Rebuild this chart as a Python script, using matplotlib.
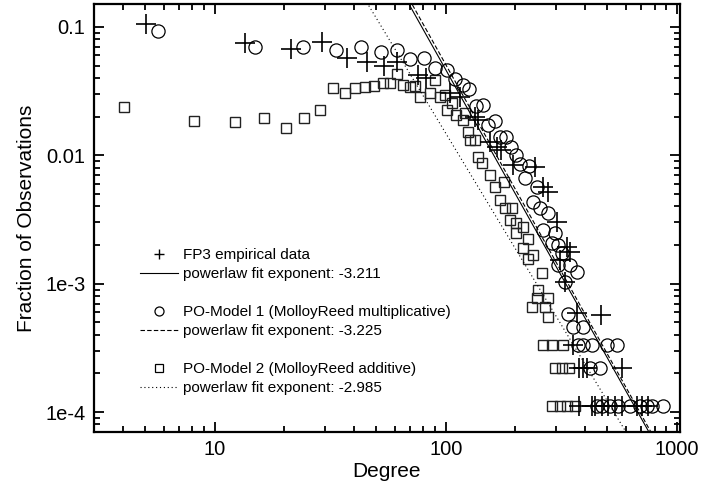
import numpy as np
import matplotlib
matplotlib.use("Agg")
import matplotlib.pyplot as plt
from matplotlib.lines import Line2D
from matplotlib.ticker import LogLocator, NullFormatter

plt.rcParams['font.family'] = ['Liberation Sans', 'DejaVu Sans']

# FP3 empirical data (crosses)
fp3_deg = [5.06, 13.5, 21.3, 29.0, 37.3, 45.5, 54.0, 61.7, 75.9, 82.4,
           104, 115, 134, 138, 155, 166, 174, 196, 243, 264,
           277, 302, 333, 312, 344, 327, 368, 468,
           356,
           378, 393, 406, 577,
           378, 428, 442, 472, 505, 539, 577, 670, 703, 751]
fp3_frac = [0.105, 0.0746, 0.0674, 0.0768, 0.057, 0.0536, 0.0497, 0.0536, 0.0422, 0.0398,
            0.0304, 0.0286, 0.020, 0.0188, 0.01277, 0.01167, 0.011, 0.0084, 0.00814, 0.00569,
            0.0052, 0.00303, 0.00194, 0.00153, 0.00177, 0.001035, 5.87e-4, 5.69e-4,
            3.33e-4,
            2.22e-4, 2.22e-4, 2.22e-4, 2.22e-4,
            1.11e-4, 1.11e-4, 1.11e-4, 1.11e-4, 1.11e-4, 1.11e-4, 1.11e-4, 1.11e-4, 1.11e-4, 1.11e-4]

# PO-Model 1 (circles)
m1_deg = [5.69, 15.0, 24.1, 33.6, 42.9, 52.4, 61.6, 69.8, 80.3, 89.6,
          101, 109, 118, 126, 135, 145, 152, 163, 171, 182,
          192, 201, 209, 228, 220, 247, 239, 255, 277, 264,
          296, 306, 287, 317, 306, 344, 368, 327, 338, 356, 393,
          374, 393, 428, 498, 550,
          420, 464,
          449, 472, 513, 557, 626, 692, 740, 777, 867]
m1_frac = [0.0936, 0.0692, 0.0702, 0.0667, 0.0698, 0.0638, 0.0658, 0.0565, 0.057, 0.0477,
           0.0462, 0.0394, 0.0353, 0.0327, 0.0242, 0.0247, 0.0172, 0.0186, 0.01396, 0.0138,
           0.01167, 0.01014, 0.00855, 0.0082, 0.00662, 0.00569, 0.00435, 0.00386, 0.00355, 0.00262,
           0.00247, 0.002, 0.00206, 0.00174, 0.0014, 0.0014, 0.00124, 0.001035, 5.8e-4, 4.56e-4, 4.56e-4,
           3.33e-4, 3.33e-4, 3.33e-4, 3.33e-4, 3.33e-4,
           2.22e-4, 2.22e-4,
           1.11e-4, 1.11e-4, 1.11e-4, 1.11e-4, 1.11e-4, 1.11e-4, 1.11e-4, 1.11e-4, 1.11e-4]

# PO-Model 2 (squares)
m2_deg = [4.04, 8.13, 12.2, 16.3, 20.3, 24.3, 28.5, 32.5, 36.5, 40.4,
          44.6, 48.8, 53.2, 57.3, 61.2, 65.4, 69.9, 73.4, 77.2, 85.3,
          89.6, 94.2, 99, 101, 106, 111, 119, 121, 125, 127,
          134, 138, 143, 155, 163, 178, 171, 180, 194, 189,
          202, 216, 202, 227, 216, 239, 227, 260, 251, 247,
          277, 235, 268, 277,
          264, 287, 322,
          296, 317, 342,
          289, 312, 334, 362]
m2_frac = [0.0236, 0.0185, 0.0182, 0.0194, 0.0162, 0.0194, 0.0225, 0.0335, 0.0306, 0.0333,
           0.0339, 0.0347, 0.0368, 0.0368, 0.043, 0.0353, 0.0339, 0.0347, 0.0286, 0.0304,
           0.0386, 0.0286, 0.0295, 0.0225, 0.0254, 0.0206, 0.0188, 0.0212, 0.01528, 0.01315,
           0.01315, 0.00975, 0.00867, 0.00702, 0.00569, 0.00622, 0.00449, 0.00386, 0.00386, 0.00313,
           0.00295, 0.00278, 0.00247, 0.00221, 0.00188, 0.00167, 0.00155, 0.00122, 8.9e-4, 7.7e-4,
           7.7e-4, 6.6e-4, 6.6e-4, 5.5e-4,
           3.33e-4, 3.33e-4, 3.33e-4,
           2.22e-4, 2.22e-4, 2.22e-4,
           1.11e-4, 1.11e-4, 1.11e-4, 1.11e-4]

# power law fits: y = 10**log_prefactor * x**exponent
fit_exponents = [-3.211, -3.225, -2.985]
fit_log_prefactors = [5.087, 5.155, 4.140]
fit_styles = ['-', (0, (4, 2)), (0, (1, 2.5))]

legend_labels = ["FP3 empirical data", "powerlaw fit exponent: -3.211", " ",
                 "PO-Model 1 (MolloyReed multiplicative)", "powerlaw fit exponent: -3.225", " ",
                 "PO-Model 2 (MolloyReed additive)", "powerlaw fit exponent: -2.985"]

fig = plt.figure(figsize=(7.01, 4.97), dpi=100)
ax = fig.add_axes([0.134, 0.131, 0.836, 0.861])
ax.set_xscale('log')
ax.set_yscale('log')

ax.plot(m2_deg, m2_frac, ls='none', marker='s', ms=6.5, mfc='none', mec='#222222', mew=1.0)
ax.plot(fp3_deg, fp3_frac, ls='none', marker='+', ms=15, color='k', mew=1.2)
ax.plot(m1_deg, m1_frac, ls='none', marker='o', ms=9.5, mfc='none', mec='k', mew=0.9)

xfit = np.array([3.0, 1000.0])
for e, lp, st in zip(fit_exponents, fit_log_prefactors, fit_styles):
    ax.plot(xfit, 10 ** lp * xfit ** e, color='k', lw=0.8, ls=st)

ax.set_xlim(3.0, 1030)
ax.set_ylim(7.0e-5, 0.151)

ax.set_xticks([10, 100, 1000], ['10', '100', '1000'])
ax.set_yticks([1e-4, 1e-3, 1e-2, 1e-1], ['1e-4', '1e-3', '0.01', '0.1'])
ax.xaxis.set_minor_locator(LogLocator(base=10, subs=np.arange(2, 10)))
ax.yaxis.set_minor_locator(LogLocator(base=10, subs=np.arange(2, 10)))
ax.xaxis.set_minor_formatter(NullFormatter())
ax.yaxis.set_minor_formatter(NullFormatter())
ax.tick_params(which='both', direction='in', top=True, right=True, width=1.3, labelsize=14.5)
ax.tick_params(which='major', length=7, pad=6)
ax.tick_params(which='minor', length=4)
for s in ax.spines.values():
    s.set_linewidth(1.6)

ax.set_xlabel("Degree", fontsize=15, labelpad=2)
ax.set_ylabel("Fraction of Observations", fontsize=15, labelpad=7)

handles = [
    Line2D([], [], ls='none', marker='+', ms=7, color='k', mew=1.0),
    Line2D([], [], color='k', lw=0.8),
    Line2D([], [], ls='none'),
    Line2D([], [], ls='none', marker='o', ms=6.5, mfc='none', mec='k', mew=0.9),
    Line2D([], [], color='k', lw=0.8, ls=fit_styles[1]),
    Line2D([], [], ls='none'),
    Line2D([], [], ls='none', marker='s', ms=5.5, mfc='none', mec='k', mew=0.9),
    Line2D([], [], color='k', lw=0.8, ls=fit_styles[2]),
]
ax.legend(handles, legend_labels, loc='upper left', bbox_to_anchor=(0.078, 0.43),
          frameon=False, fontsize=11, handlelength=2.5, handletextpad=0.35,
          labelspacing=0.33, borderpad=0, borderaxespad=0)

fig.savefig("out.png", dpi=100)
